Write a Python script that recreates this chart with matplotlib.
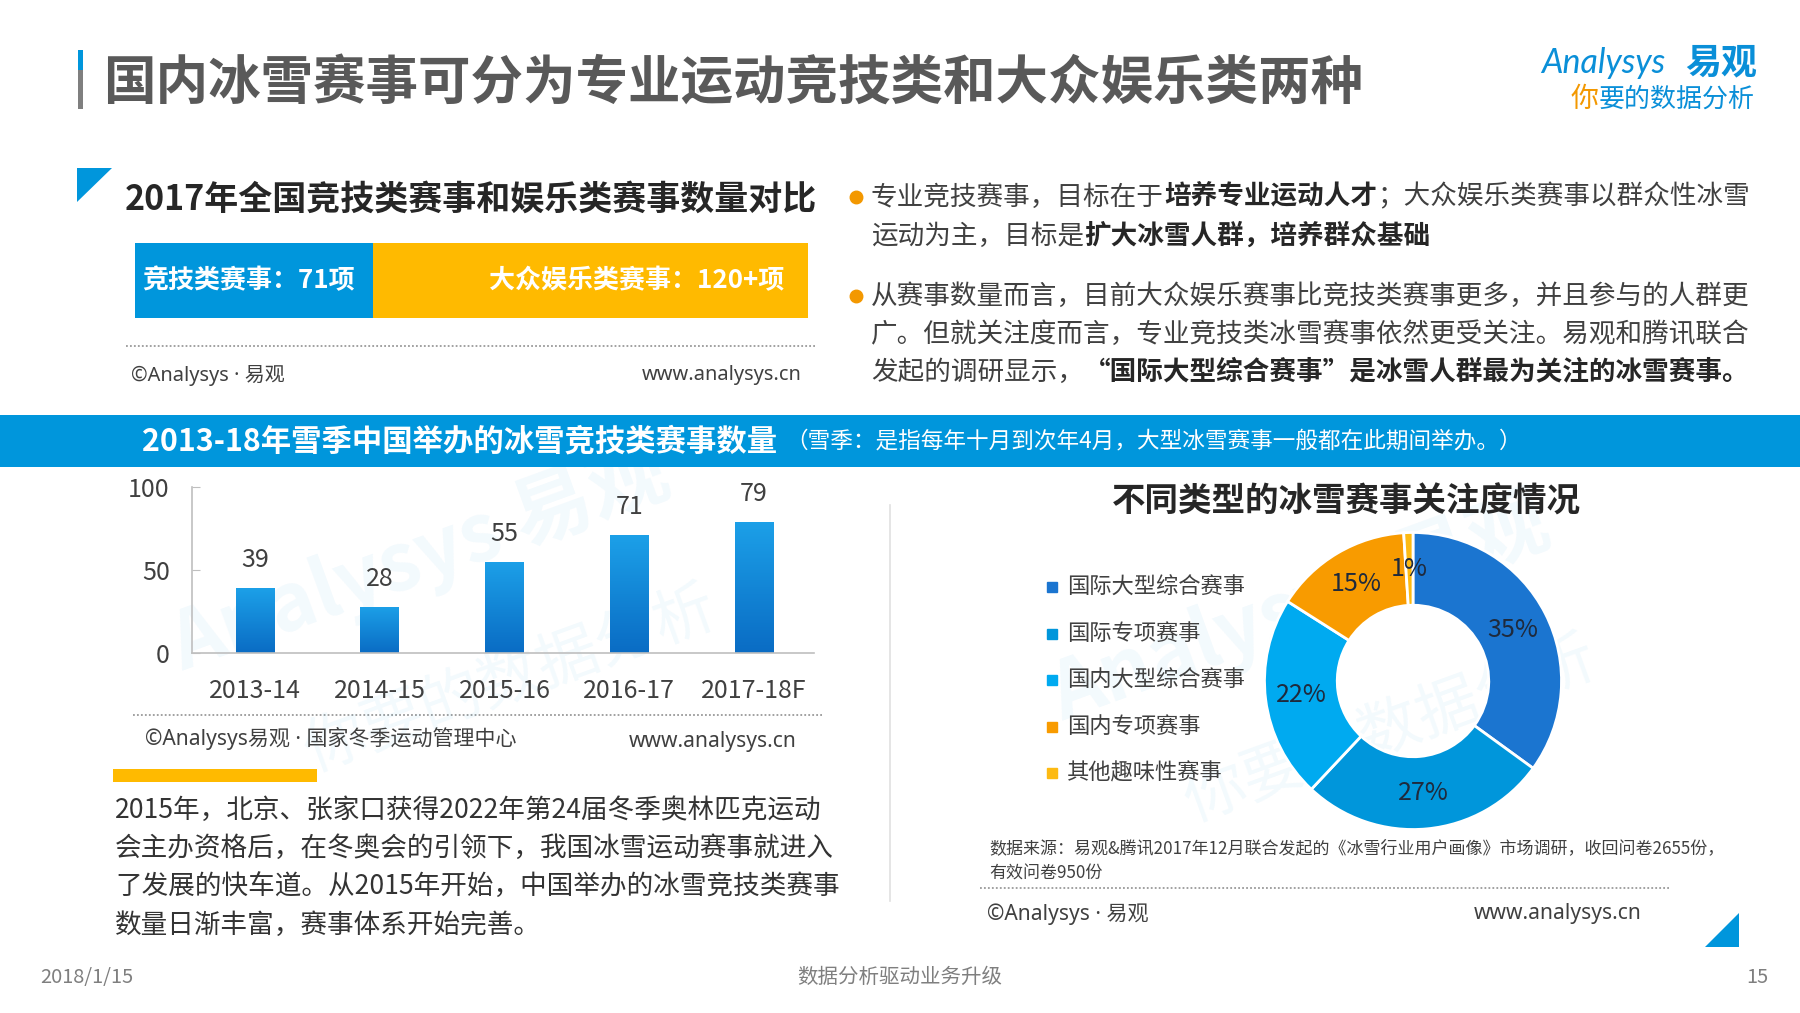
import matplotlib
matplotlib.use("Agg")
import numpy as np
import matplotlib.pyplot as plt
from matplotlib.colors import LinearSegmentedColormap

plt.rcParams['font.family'] = ['Noto Sans CJK SC', 'DejaVu Sans']

# ---- data ----
compare_labels = ['竞技类赛事：71项', '大众娱乐类赛事：120+项']
compare_values = [71, 130]  # "120+" -> bar drawn a little longer than 120

seasons = ['2013-14', '2014-15', '2015-16', '2016-17', '2017-18F']
event_counts = [39, 28, 55, 71, 79]

attention_labels = ['国际大型综合赛事', '国际专项赛事', '国内大型综合赛事', '国内专项赛事', '其他趣味性赛事']
attention_share = [35, 27, 22, 15, 1]
attention_colors = ['#1B75D0', '#0096DB', '#00AAF0', '#F89B00', '#FDBA12']

W, H = 1800, 1013
PT = 0.72  # px -> pt at dpi 100
BLUE = '#0096DC'
DARK = '#262626'
TXT = '#404040'
LATIN = ['Noto Sans', 'Noto Sans CJK SC']

fig = plt.figure(figsize=(W / 100, H / 100), dpi=100)
ax = fig.add_axes([0, 0, 1, 1])
ax.set_xlim(0, W)
ax.set_ylim(H, 0)
ax.axis('off')
rend = fig.canvas.get_renderer()


def sub_axes(l, t, r, b):
    return fig.add_axes([l / W, 1 - b / H, (r - l) / W, (b - t) / H])


def rich(x, y, parts, size, color=TXT, bold_color=DARK):
    # draw a line made of regular / bold pieces one after the other
    for part in parts:
        s, bold = part[0], part[1]
        sz = part[2] if len(part) > 2 else size
        gap = part[3] if len(part) > 3 else 0
        x += gap
        t = ax.text(x, y, s, fontsize=sz * PT, color=bold_color if bold else color,
                    weight='bold' if bold else 'normal', va='center', ha='left')
        x += t.get_window_extent(renderer=rend).width
    return x


def dotted(x0, x1, y):
    ax.plot([x0, x1], [y, y], color='#9A9A9A', lw=1.3, ls=(0, (1, 1.2)))


# ---- watermarks ----
for (cx, cy) in [(420, 560), (1300, 610)]:
    ax.text(cx, cy, 'Analysys 易观', fontsize=80 * PT, color=BLUE, alpha=0.05,
            rotation=20, ha='center', va='center', weight='bold')
    ax.text(cx + 90, cy + 120, '你要的数据分析', fontsize=62 * PT, color=BLUE, alpha=0.05,
            rotation=20, ha='center', va='center')

# ---- header ----
ax.fill_between([78, 83], 50, 70, color=BLUE, lw=0)
ax.fill_between([78, 83], 70, 109, color='#7F7F7F', lw=0)
ax.text(103, 83, '国内冰雪赛事可分为专业运动竞技类和大众娱乐类两种', fontsize=52.5 * PT,
        weight='bold', color='#595959', va='center', ha='left')

ax.text(1541, 63, 'Analysys', fontsize=34 * PT, color='#0A8FD8', va='center', ha='left',
        family=['Lato', 'DejaVu Sans'], style='italic')
ax.text(1757, 63, '易观', fontsize=36 * PT, color='#0A8FD8', va='center', ha='right', weight='bold')
rich(1571, 99, [('你', False, 28), ('要的数据分析', False, 26)], 26, color='#0A8FD8')
ax.texts[-2].set_color('#F39800')

# ---- section 1: comparison bar ----
ax.fill([77, 112, 77], [168, 168, 202], color=BLUE, lw=0)
ax.text(125, 199, '2017年全国竞技类赛事和娱乐类赛事数量对比', fontsize=34 * PT,
        weight='bold', color=DARK, va='center', ha='left')

bax = sub_axes(135, 243, 808, 318)
bax.barh(0, compare_values[0], height=1, color=BLUE, lw=0)
bax.barh(0, compare_values[1], left=compare_values[0], height=1, color='#FFBA00', lw=0)
bax.set_xlim(0, sum(compare_values))
bax.set_ylim(-0.5, 0.5)
bax.axis('off')
bax.text(2, 0, compare_labels[0], fontsize=26 * PT, color='white', weight='bold', va='center', ha='left')
bax.text(sum(compare_values) - 7, 0, compare_labels[1], fontsize=26 * PT, color='white',
         weight='bold', va='center', ha='right')

dotted(126, 815, 346)
ax.text(131, 375, '©Analysys · 易观', fontsize=20 * PT, color=TXT, va='center', ha='left', family=LATIN)
ax.text(802, 375, 'www.analysys.cn', fontsize=20 * PT, color=TXT, va='center', ha='right', family=LATIN)

# ---- bullets ----
bullets = [
    [[('专业竞技赛事，目标在于', False), ('培养专业运动人才', True), ('；大众娱乐类赛事以群众性冰雪', False)],
     [('运动为主，目标是', False), ('扩大冰雪人群，培养群众基础', True)]],
    [[('从赛事数量而言，目前大众娱乐赛事比竞技类赛事更多，并且参与的人群更', False)],
     [('广。但就关注度而言，专业竞技类冰雪赛事依然更受关注。易观和腾讯联合', False)],
     [('发起的调研显示，', False), ('“国际大型综合赛事”是冰雪人群最为关注的冰雪赛事。', True)]],
]
line_y = [[197, 236], [296, 334, 372]]
for lines, ys in zip(bullets, line_y):
    ax.plot(856, ys[0], 'o', ms=9, color='#F39800')
    for parts, y in zip(lines, ys):
        rich(871, y, parts, 26.6)

# ---- blue band ----
ax.fill_between([0, W], 415, 467, color=BLUE, lw=0)
rich(142, 441, [('2013-18年雪季中国举办的冰雪竞技类赛事数量', True, 30.4),
                ('（雪季：是指每年十月到次年4月，大型冰雪赛事一般都在此期间举办。）', False, 22.6, 8)],
     22, color='white', bold_color='white')

# ---- bar chart ----
cax = sub_axes(192, 487, 814, 653)
xs = np.arange(len(seasons))
bars = cax.bar(xs, event_counts, width=0.31, color='#1187D8', lw=0)
cmap = LinearSegmentedColormap.from_list('g', ['#0A6CC4', '#1CA0E8'])
grad = np.linspace(0, 1, 128).reshape(-1, 1)
for b in bars:
    x0, y0 = b.get_x(), b.get_y()
    im = cax.imshow(grad, cmap=cmap, origin='lower', aspect='auto',
                    extent=[x0, x0 + b.get_width(), y0, y0 + b.get_height()], zorder=2)
    im.set_clip_path(b)
for x, v in zip(xs, event_counts):
    cax.annotate(str(v), (x, v), xytext=(0, 28 * PT), textcoords='offset points',
                 ha='center', va='center', fontsize=25 * PT, color=TXT)
cax.set_xlim(-0.505, 4.48)
cax.set_ylim(0, 100)
cax.set_yticks([0, 50, 100])
cax.set_xticks(xs)
cax.set_xticklabels(seasons)
cax.patch.set_alpha(0)
for s in ['top', 'right']:
    cax.spines[s].set_visible(False)
for s in ['left', 'bottom']:
    cax.spines[s].set_color('#BFBFBF')
    cax.spines[s].set_linewidth(1.2)
cax.tick_params(axis='y', direction='in', length=6, color='#BFBFBF', pad=16,
                labelsize=25 * PT, labelcolor=TXT)
cax.tick_params(axis='x', length=0, pad=18, labelsize=25 * PT, labelcolor=TXT)

dotted(133, 824, 715)
ax.text(145, 738, '©Analysys易观 · 国家冬季运动管理中心', fontsize=21 * PT, color=TXT,
        va='center', ha='left', family=LATIN)
ax.text(797, 741, 'www.analysys.cn', fontsize=21 * PT, color=TXT, va='center', ha='right', family=LATIN)

ax.fill_between([113, 317], 769, 782, color='#FFBA00', lw=0)
para = ['2015年，北京、张家口获得2022年第24届冬季奥林匹克运动',
        '会主办资格后，在冬奥会的引领下，我国冰雪运动赛事就进入',
        '了发展的快车道。从2015年开始，中国举办的冰雪竞技类赛事',
        '数量日渐丰富，赛事体系开始完善。']
for i, line in enumerate(para):
    ax.text(115, 810 + i * 38.5, line, fontsize=26.6 * PT, color='#333333', va='center', ha='left')

# divider
ax.plot([890, 890], [505, 901], color='#E0E0E0', lw=1.2)

# ---- donut ----
ax.text(1346, 502, '不同类型的冰雪赛事关注度情况', fontsize=33.5 * PT, weight='bold',
        color=DARK, va='center', ha='center')
dax = sub_axes(1263, 531, 1563, 831)
wedges, _, autotexts = dax.pie(attention_share, colors=attention_colors, startangle=90,
                               counterclock=False, autopct=lambda p: f'{p:.0f}%',
                               pctdistance=0.755,
                               wedgeprops=dict(width=0.49, edgecolor='white', linewidth=2))
for t in autotexts:
    t.set_fontsize(25 * PT)
    t.set_color('#1F2A3C')
dax.set_xlim(-1.01, 1.01)
dax.set_ylim(-1.01, 1.01)
dax.set_aspect('equal')

for i, (lab, col) in enumerate(zip(attention_labels, attention_colors)):
    y = 587 + i * 46.5
    ax.plot(1052, y, 's', ms=6.5, color=col)
    ax.text(1067, y, lab, fontsize=22.3 * PT, color=TXT, va='center', ha='left')

ax.text(989, 848, '数据来源：易观&腾讯2017年12月联合发起的《冰雪行业用户画像》市场调研，收回问卷2655份，',
        fontsize=17 * PT, color=TXT, va='center', ha='left')
ax.text(989, 874, '有效问卷950份', fontsize=17 * PT, color=TXT, va='center', ha='left')
dotted(980, 1669, 888)
ax.text(987, 914, '©Analysys · 易观', fontsize=21 * PT, color=TXT, va='center', ha='left', family=LATIN)
ax.text(1642, 913, 'www.analysys.cn', fontsize=21 * PT, color=TXT, va='center', ha='right', family=LATIN)
ax.fill([1739, 1739, 1705], [913, 947, 947], color=BLUE, lw=0)

# ---- footer ----
ax.text(40, 977, '2018/1/15', fontsize=20 * PT, color='#7F7F7F', va='center', ha='left')
ax.text(900, 977, '数据分析驱动业务升级', fontsize=20.5 * PT, color='#7F7F7F', va='center', ha='center')
ax.text(1768, 977, '15', fontsize=20 * PT, color='#7F7F7F', va='center', ha='right')

fig.savefig('out.png', dpi=100)
